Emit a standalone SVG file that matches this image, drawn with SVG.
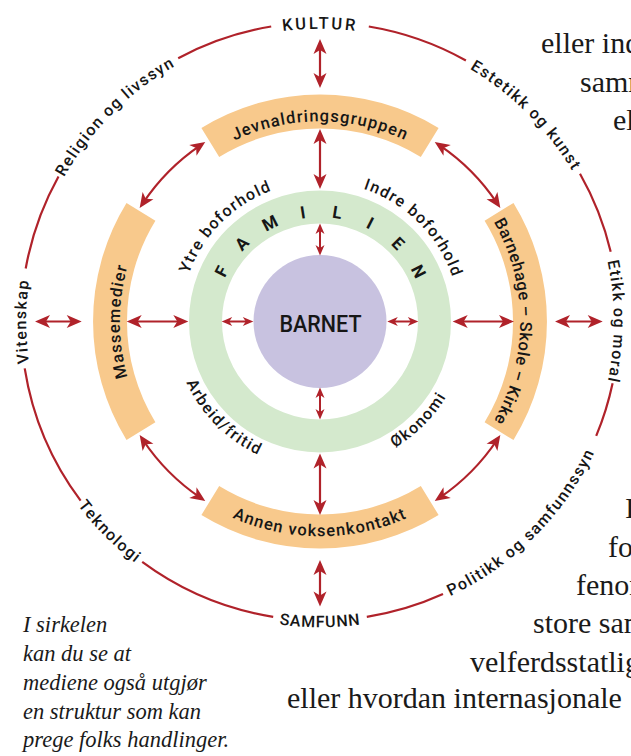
<svg xmlns="http://www.w3.org/2000/svg" width="631" height="756" viewBox="0 0 631 756">
<style>
.t{font-family:Roboto,"DejaVu Sans",sans-serif;fill:#161616;font-weight:500}
.o{font-size:16px;letter-spacing:1.4px}
.kc{font-size:16.5px;letter-spacing:2.6px}
.sc{font-size:16px;letter-spacing:0.8px}
.b{font-size:16.5px;letter-spacing:1.1px}
.bk{font-size:16.5px;letter-spacing:0.5px}
.g{font-size:16px;letter-spacing:1.4px}
.fam{font-size:17px;font-weight:bold;text-anchor:middle}
.ring{fill:none;stroke:#B0222A;stroke-width:2.2}
.band{fill:#F8C98C}
.arr{fill:none;stroke:#B0222A;stroke-width:2.2;marker-start:url(#ah);marker-end:url(#ah)}
.arrs{fill:none;stroke:#B0222A;stroke-width:2;marker-start:url(#ahs);marker-end:url(#ahs)}
.book{font-family:"Liberation Serif",serif;font-size:30px;fill:#1a1a1a}
.cap{font-family:"Liberation Serif",serif;font-style:italic;font-size:22.5px;fill:#1a1a1a}
</style>
<defs>
<marker id="ah" markerUnits="userSpaceOnUse" orient="auto-start-reverse" markerWidth="20" markerHeight="20" refX="0" refY="0" style="overflow:visible">
<path d="M6,0 L-9,-6.5 L-5,0 L-9,6.5 Z" fill="#B0222A"/>
</marker>
<marker id="ahs" markerUnits="userSpaceOnUse" orient="auto-start-reverse" markerWidth="20" markerHeight="20" refX="0" refY="0" style="overflow:visible">
<path d="M4,0 L-6.5,-4.5 L-3.5,0 L-6.5,4.5 Z" fill="#B0222A"/>
</marker>
<path id="pKultur" d="M-288.5,-50.9 A293,293 0 0,1 288.5,-50.9"/>
<path id="pReligion" d="M-240.8,168.6 A294,294 0 0,1 168.6,-240.8"/>
<path id="pEstetikk" d="M-168.6,-240.8 A294,294 0 0,1 240.8,168.6"/>
<path id="pEtikk" d="M51.1,-289.5 A294,294 0 0,1 51.1,289.5"/>
<path id="pVitenskap" d="M-51.1,289.5 A294,294 0 0,1 -51.1,-289.5"/>
<path id="pPolitikk" d="M-174.4,249.0 A304,304 0 0,0 249.0,-174.4"/>
<path id="pSamfunn" d="M-300.9,53.0 A305.5,305.5 0 0,0 300.9,53.0"/>
<path id="pTeknologi" d="M-249.0,-174.4 A304,304 0 0,0 174.4,249.0"/>
<path id="pYtre" d="M-114.3,80.0 A139.5,139.5 0 0,1 80.0,-114.3"/>
<path id="pIndre" d="M-80.0,-114.3 A139.5,139.5 0 0,1 114.3,80.0"/>
<path id="pArbeid" d="M-120.4,-84.3 A147,147 0 0,0 84.3,120.4"/>
<path id="pOkonomi" d="M-84.3,120.4 A147,147 0 0,0 120.4,-84.3"/>
<path id="pJevn" d="M-197.0,-34.7 A200,200 0 0,1 197.0,-34.7"/>
<path id="pBarnehage" d="M34.7,-197.0 A200,200 0 0,1 34.7,197.0"/>
<path id="pAnnen" d="M-211.7,37.3 A215,215 0 0,0 211.7,37.3"/>
<path id="pMasse" d="M-34.7,197.0 A200,200 0 0,1 -34.7,-197.0"/>
<path id="bandShape" d="M-118.6,-193.5 A227,227 0 0,1 118.6,-193.5 L100.8,-164.6 A193,193 0 0,0 -100.8,-164.6 Z"/>
</defs>
<rect width="631" height="756" fill="#ffffff"/>

<g id="page-text" class="book">
<text x="541" y="53">eller ind</text>
<text x="580" y="92">samm</text>
<text x="613" y="130">ell</text>
<text x="625" y="518">I</text>
<text x="608" y="557">for</text>
<text x="576" y="595">fenom</text>
<text x="533" y="633">store sam</text>
<text x="470" y="672">velferdsstatlige</text>
<text x="287" y="708">eller hvordan internasjonale</text>
</g>

<g id="caption" class="cap">
<text x="23" y="632">I sirkelen</text>
<text x="23" y="661">kan du se at</text>
<text x="23" y="690">mediene også utgjør</text>
<text x="23" y="718.5">en struktur som kan</text>
<text x="23" y="747">prege folks handlinger.</text>
</g>

<g transform="translate(320,321.5)">
<g id="samfunn-ring">
<path class="ring" d="M48.8,-295.0 A299,299 0 0,1 145.9,-261.0 M260.0,-147.7 A299,299 0 0,1 290.7,-69.8 M292.6,61.7 A299,299 0 0,1 276.2,114.4 M123.0,272.5 A299,299 0 0,1 46.8,295.3 M-46.8,295.3 A299,299 0 0,1 -177.8,240.4 M-239.4,179.1 A299,299 0 0,1 -295.3,46.8 M-294.3,-53.0 A299,299 0 0,1 -261.5,-145.0 M-141.8,-263.3 A299,299 0 0,1 -48.8,-295.0"/>
<text class="t kc"><textPath href="#pKultur" startOffset="50%" text-anchor="middle">KULTUR</textPath></text>
<text class="t o"><textPath href="#pReligion" startOffset="50%" text-anchor="middle">Religion og livssyn</textPath></text>
<text class="t o"><textPath href="#pEstetikk" startOffset="50%" text-anchor="middle">Estetikk og kunst</textPath></text>
<text class="t o"><textPath href="#pEtikk" startOffset="50%" text-anchor="middle">Etikk og moral</textPath></text>
<text class="t o"><textPath href="#pVitenskap" startOffset="50%" text-anchor="middle">Vitenskap</textPath></text>
<text class="t o"><textPath href="#pPolitikk" startOffset="50%" text-anchor="middle">Politikk og samfunnssyn</textPath></text>
<text class="t sc"><textPath href="#pSamfunn" startOffset="50%" text-anchor="middle">SAMFUNN</textPath></text>
<text class="t o"><textPath href="#pTeknologi" startOffset="50%" text-anchor="middle">Teknologi</textPath></text>
</g>

<g id="jevnaldringsgruppen">
<use href="#bandShape" class="band"/>
<text class="t b"><textPath href="#pJevn" startOffset="50%" text-anchor="middle">Jevnaldringsgruppen</textPath></text>
</g>
<g id="barnehage-skole-kirke">
<use href="#bandShape" class="band" transform="rotate(90)"/>
<text class="t bk"><textPath href="#pBarnehage" startOffset="50%" text-anchor="middle">Barnehage – Skole – Kirke</textPath></text>
</g>
<g id="annen-voksenkontakt">
<use href="#bandShape" class="band" transform="rotate(180)"/>
<text class="t b"><textPath href="#pAnnen" startOffset="50%" text-anchor="middle">Annen voksenkontakt</textPath></text>
</g>
<g id="massemedier">
<use href="#bandShape" class="band" transform="rotate(270)"/>
<text class="t b"><textPath href="#pMasse" startOffset="50%" text-anchor="middle">Massemedier</textPath></text>
</g>

<g id="familien">
<circle r="114.5" fill="none" stroke="#D4E9CD" stroke-width="33"/>
<text class="t fam" x="0" y="-104.5" transform="rotate(-63)">F</text>
<text class="t fam" x="0" y="-104.5" transform="rotate(-45)">A</text>
<text class="t fam" x="0" y="-104.5" transform="rotate(-27)">M</text>
<text class="t fam" x="0" y="-104.5" transform="rotate(-9)">I</text>
<text class="t fam" x="0" y="-104.5" transform="rotate(9)">L</text>
<text class="t fam" x="0" y="-104.5" transform="rotate(27)">I</text>
<text class="t fam" x="0" y="-104.5" transform="rotate(45)">E</text>
<text class="t fam" x="0" y="-104.5" transform="rotate(63)">N</text>
<text class="t g"><textPath href="#pYtre" startOffset="50%" text-anchor="middle">Ytre boforhold</textPath></text>
<text class="t g"><textPath href="#pIndre" startOffset="50%" text-anchor="middle">Indre boforhold</textPath></text>
<text class="t g"><textPath href="#pArbeid" startOffset="50%" text-anchor="middle">Arbeid/fritid</textPath></text>
<text class="t g"><textPath href="#pOkonomi" startOffset="50%" text-anchor="middle">Økonomi</textPath></text>
</g>

<g id="barnet">
<circle r="66.5" fill="#C8C2E0"/>
<text class="t" x="0.5" y="10.2" text-anchor="middle" font-size="23.5" textLength="82" lengthAdjust="spacingAndGlyphs">BARNET</text>
</g>

<g id="connectors">
<path class="arr" d="M0,-276.5 L0,-239.5"/>
<path class="arr" d="M0,-186.5 L0,-138.5"/>
<path class="arrs" d="M0,-94 L0,-70"/>
<path class="arrs" d="M0,70 L0,94"/>
<path class="arr" d="M0,138 L0,187.5"/>
<path class="arr" d="M0,244.5 L0,279"/>
<path class="arr" d="M-279,0 L-244.3,0"/>
<path class="arr" d="M-187.3,0 L-137.7,0"/>
<path class="arrs" d="M-94.3,0 L-70.7,0"/>
<path class="arrs" d="M71.3,0 L94.3,0"/>
<path class="arr" d="M138.7,0 L188,0"/>
<path class="arr" d="M241,0 L276.7,0"/>
<path class="arr" d="M-119.7,-176.2 A213,213 0 0,0 -177.0,-118.5"/>
<path class="arr" d="M119.7,-176.2 A213,213 0 0,1 177.0,-118.5"/>
<path class="arr" d="M177.0,118.5 A213,213 0 0,1 119.7,176.2"/>
<path class="arr" d="M-119.7,176.2 A213,213 0 0,1 -177.0,118.5"/>
</g>
</g>
</svg>
